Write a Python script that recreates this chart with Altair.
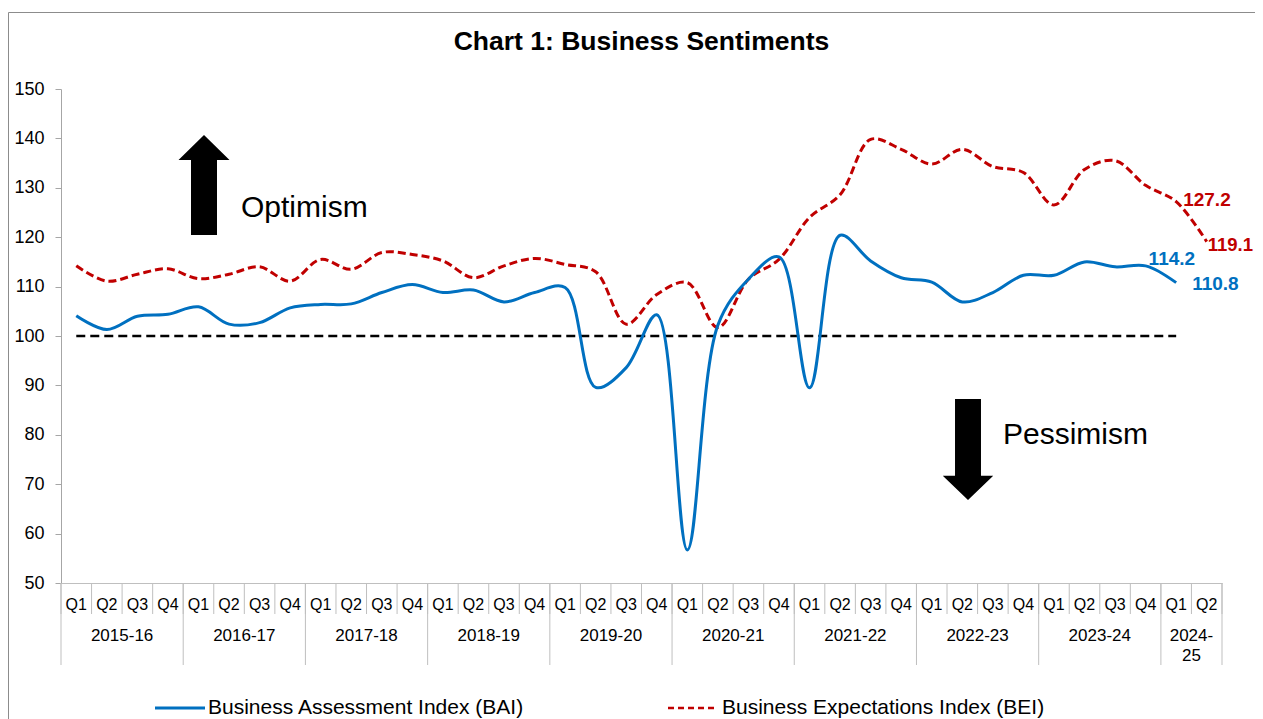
import altair as alt
import pandas as pd

# ---------------- data ----------------
quarters = ["Q1", "Q2", "Q3", "Q4"]
years = ["2015-16", "2016-17", "2017-18", "2018-19", "2019-20",
         "2020-21", "2021-22", "2022-23", "2023-24", "2024-25"]
quarters_per_year = [4, 4, 4, 4, 4, 4, 4, 4, 4, 2]

bai = [104.1, 101.3, 104.0, 104.4, 105.9, 102.4, 102.7, 105.7, 106.4, 106.5,
       108.8, 110.4, 108.8, 109.3, 106.9, 108.8, 109.8, 89.6, 93.6, 104.3,
       56.7, 102.2, 111.5, 116.0, 89.5, 120.4, 115.2, 111.8, 110.9, 106.9,
       108.8, 112.3, 112.3, 115.0, 114.0, 114.2, 110.8]
bei = [114.2, 111.1, 112.5, 113.6, 111.6, 112.5, 114.0, 111.1, 115.5, 113.5,
       116.9, 116.5, 115.2, 111.8, 114.2, 115.7, 114.5, 113.0, 102.4, 108.4,
       110.8, 101.7, 111.5, 115.5, 124.0, 128.6, 139.8, 137.8, 134.8, 137.8,
       134.3, 133.1, 126.5, 133.7, 135.5, 130.5, 127.2, 119.1]
neutral_level = 100
series_names = ["Business Assessment Index (BAI)", "Business Expectations Index (BEI)"]
annotation_words = ["Optimism", "Pessimism"]
title_text = ["Chart 1: Business Sentiments"]

# ---------------- tables ----------------
q_lab, y_lab = [], []
for yr, n in zip(years, quarters_per_year):
    for q in quarters[:n]:
        q_lab.append(q)
        y_lab.append(yr)
cat = pd.DataFrame({"i": list(range(len(q_lab))), "q": q_lab, "year": y_lab})
n_cat = len(cat)

bai_df = pd.DataFrame({"i": list(range(len(bai))), "v": bai})
bei_df = pd.DataFrame({"i": list(range(len(bei))), "v": bei})

yr_grp = cat.groupby("year", sort=False)["i"]
year_df = pd.DataFrame({
    "c": yr_grp.mean().values,
    "label": [y if len(g) == 4 else y.replace("-", "-\n") for y, g in yr_grp],
})
q_bounds = pd.DataFrame({"b": [k - 0.5 for k in range(n_cat + 1)]})
y_bounds = pd.DataFrame({"b": list(yr_grp.min().values - 0.5) + [n_cat - 0.5]})
neutral_df = pd.DataFrame({"a": [0], "b": [len(bai) - 1], "v": [neutral_level]})

# ---------------- styling ----------------
FONT = "Liberation Sans"
W, H = 1161, 494
BLUE, RED = "#0070C0", "#C00000"
GRAYLINE = "#BFBFBF"

xs = alt.Scale(domain=[-0.5, n_cat - 0.5], nice=False, zero=False)
ys = alt.Scale(domain=[50, 150], nice=False, zero=False)
xaxis = alt.Axis(labels=False, ticks=False, title=None, grid=False,
                 domainColor=GRAYLINE, domainWidth=1)
yaxis = alt.Axis(values=list(range(50, 151, 10)), title=None, grid=False,
                 labelFontSize=18, labelFont=FONT, labelColor="black",
                 tickSize=6, tickColor="#A6A6A6", domainColor="#A6A6A6",
                 labelPadding=11)

X = alt.X("i:Q", scale=xs, axis=xaxis)
Y = alt.Y("v:Q", scale=ys, axis=yaxis)

line_bai = alt.Chart(bai_df).mark_line(
    color=BLUE, strokeWidth=3, interpolate="catmull-rom"
).encode(x=X, y=Y)

line_bei = alt.Chart(bei_df).mark_line(
    color=RED, strokeWidth=3, strokeDash=[8, 4], interpolate="catmull-rom"
).encode(x=X, y=Y)

neutral = alt.Chart(neutral_df).mark_rule(
    color="black", strokeWidth=2.5, strokeDash=[9, 5]
).encode(x=alt.X("a:Q", scale=xs, axis=xaxis), x2="b:Q", y=Y)

q_sep = alt.Chart(q_bounds).mark_rule(color=GRAYLINE, strokeWidth=1).encode(
    x=alt.X("b:Q", scale=xs, axis=xaxis), y=alt.value(H), y2=alt.value(H + 31))
y_sep = alt.Chart(y_bounds).mark_rule(color=GRAYLINE, strokeWidth=1).encode(
    x=alt.X("b:Q", scale=xs, axis=xaxis), y=alt.value(H), y2=alt.value(H + 82))

q_text = alt.Chart(cat).mark_text(
    font=FONT, fontSize=16, color="black", baseline="alphabetic", align="center"
).encode(x=X, y=alt.value(H + 27), text="q:N")

y_text = alt.Chart(year_df).mark_text(
    font=FONT, fontSize=17, color="black", baseline="top", align="center",
    lineBreak="\n", lineHeight=20
).encode(x=alt.X("c:Q", scale=xs, axis=xaxis), y=alt.value(H + 45), text="label:N")

# end-point labels
def end_label(df, idx, color, dx, dy, size=19):
    return alt.Chart(df.iloc[[idx]]).mark_text(
        font=FONT, fontSize=size, fontWeight="bold", color=color,
        align="left", baseline="middle", dx=dx, dy=dy
    ).encode(x=X, y=Y, text=alt.Text("v:Q", format=".1f"))

lab_bai1 = end_label(bai_df, len(bai) - 2, BLUE, 3, -7)
lab_bai2 = end_label(bai_df, len(bai) - 1, BLUE, 16, 1)
lab_bei1 = end_label(bei_df, len(bei) - 2, RED, 7, -2)
lab_bei2 = end_label(bei_df, len(bei) - 1, RED, 1, 3, size=18.5)

# annotation arrows
one = pd.DataFrame({"a": [0]})
UP = "M0,-1 L0.51,-0.5 L0.26,-0.5 L0.26,1 L-0.26,1 L-0.26,-0.5 L-0.51,-0.5 Z"
DOWN = "M0,1 L0.5,0.52 L0.257,0.52 L0.257,-1 L-0.257,-1 L-0.257,0.52 L-0.5,0.52 Z"
arrow_up = alt.Chart(one).mark_point(
    shape=UP, size=10000, filled=True, fill="black", strokeWidth=0, opacity=1
).encode(x=alt.value(143), y=alt.value(96))
arrow_down = alt.Chart(one).mark_point(
    shape=DOWN, size=10201, filled=True, fill="black", strokeWidth=0, opacity=1
).encode(x=alt.value(907), y=alt.value(360.5))

words = pd.DataFrame({"w": annotation_words})
opt_text = alt.Chart(words.iloc[[0]]).mark_text(
    font=FONT, fontSize=30, color="black", align="left", baseline="alphabetic"
).encode(x=alt.value(180), y=alt.value(128), text="w:N")
pes_text = alt.Chart(words.iloc[[1]]).mark_text(
    font=FONT, fontSize=30, color="black", align="left", baseline="alphabetic"
).encode(x=alt.value(942), y=alt.value(355), text="w:N")

# title
title = alt.Chart(pd.DataFrame({"t": title_text})).mark_text(
    font=FONT, fontSize=26.5, fontWeight="bold", color="black",
    align="center", baseline="middle"
).encode(x=alt.value(W / 2), y=alt.value(-47), text="t:N")

# legend (bottom)
leg = pd.DataFrame({"name": series_names})
leg_y = 619
leg_bai_line = alt.Chart(one).mark_rule(color=BLUE, strokeWidth=3).encode(
    x=alt.value(94), x2=alt.value(144), y=alt.value(leg_y))
leg_bei_line = alt.Chart(one).mark_rule(color=RED, strokeWidth=2.5, strokeDash=[6, 4]).encode(
    x=alt.value(607), x2=alt.value(657), y=alt.value(leg_y))
leg_bai_text = alt.Chart(leg.iloc[[0]]).mark_text(
    font=FONT, fontSize=21, color="black", align="left", baseline="middle"
).encode(x=alt.value(147), y=alt.value(leg_y), text="name:N")
leg_bei_text = alt.Chart(leg.iloc[[1]]).mark_text(
    font=FONT, fontSize=21, color="black", align="left", baseline="middle"
).encode(x=alt.value(661), y=alt.value(leg_y), text="name:N")

# outer border
border = alt.Chart(one).mark_rect(
    fillOpacity=0, stroke="#8C8C8C", strokeWidth=1
).encode(x=alt.value(-52.5), x2=alt.value(1400), y=alt.value(-76.5), y2=alt.value(800))

chart = alt.layer(
    border, q_sep, y_sep, q_text, y_text, neutral, line_bei, line_bai,
    lab_bai1, lab_bai2, lab_bei1, lab_bei2,
    arrow_up, arrow_down, opt_text, pes_text, title,
    leg_bai_line, leg_bei_line, leg_bai_text, leg_bei_text,
).properties(
    width=W, height=H,
    autosize=alt.AutoSizeParams(type="none"),
    padding={"left": 53, "top": 81, "right": 33, "bottom": 136},
    background="white",
).configure_view(strokeWidth=0)

chart.save("out.html", embed_options={"renderer": "svg", "actions": False})
